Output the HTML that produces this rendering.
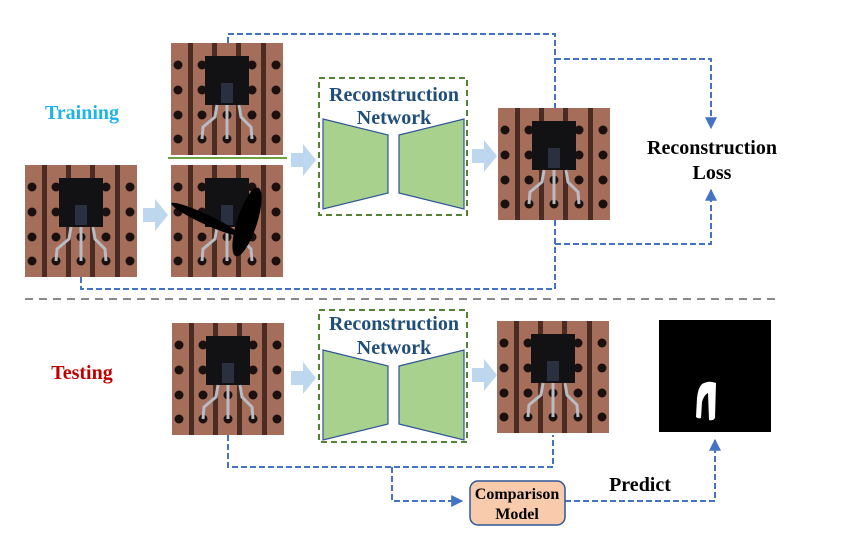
<!DOCTYPE html>
<html><head><meta charset="utf-8"><style>
html,body{margin:0;padding:0;background:#fff;}
svg{display:block;}
text{font-family:"Liberation Serif",serif;font-weight:bold;}
</style></head><body>
<svg width="844" height="535" viewBox="0 0 844 535" xmlns="http://www.w3.org/2000/svg">
<defs>
<symbol id="pcb" viewBox="0 0 112 112" width="112" height="112">
<rect width="112" height="112" fill="#a56e5a"/>
<rect x="17" width="5" height="112" fill="#4a2c22"/>
<rect x="41" width="5" height="112" fill="#4a2c22"/>
<rect x="65" width="5" height="112" fill="#4a2c22"/>
<rect x="90" width="5" height="112" fill="#4a2c22"/>
<g fill="#1a1010">
<circle cx="7" cy="22" r="4.5"/><circle cx="31" cy="22" r="4.5"/><circle cx="56" cy="22" r="4.5"/><circle cx="81" cy="22" r="4.5"/><circle cx="105" cy="22" r="4.5"/>
<circle cx="7" cy="47" r="4.5"/><circle cx="31" cy="47" r="4.5"/><circle cx="56" cy="47" r="4.5"/><circle cx="81" cy="47" r="4.5"/><circle cx="105" cy="47" r="4.5"/>
<circle cx="7" cy="72" r="4.5"/><circle cx="31" cy="72" r="4.5"/><circle cx="56" cy="72" r="4.5"/><circle cx="81" cy="72" r="4.5"/><circle cx="105" cy="72" r="4.5"/>
<circle cx="7" cy="96" r="4.5"/><circle cx="31" cy="96" r="4.5"/><circle cx="56" cy="96" r="4.5"/><circle cx="81" cy="96" r="4.5"/><circle cx="105" cy="96" r="4.5"/>
</g>
<rect x="34" y="13" width="44" height="49" fill="#121214"/>
<rect x="50" y="40" width="12" height="20" fill="#2a3040"/>
<g stroke="#b8bcc4" stroke-width="3" fill="none">
<path d="M46 62 L44 74 L32 84 L31 96"/>
<path d="M56 62 L56 96"/>
<path d="M68 62 L70 74 L80 84 L81 96"/>
</g>
</symbol>
<marker id="ah" viewBox="0 0 10 10" refX="9" refY="5" markerWidth="6" markerHeight="6" orient="auto"><path d="M0 0 L10 5 L0 10 z" fill="#4472c4"/></marker>
</defs>

<text x="82" y="119" font-size="20" fill="#1fb4e8" text-anchor="middle">Training</text>
<text x="82" y="379" font-size="20" fill="#c00000" text-anchor="middle">Testing</text>

<use href="#pcb" x="25" y="165"/>
<use href="#pcb" x="171" y="43"/>
<line x1="168" y1="158" x2="287" y2="158" stroke="#70a040" stroke-width="2"/>
<use href="#pcb" x="171" y="165"/>
<ellipse cx="205" cy="219" rx="37" ry="5" transform="rotate(25 205 219)" fill="#000"/>
<ellipse cx="247" cy="222" rx="10" ry="36" transform="rotate(18 247 222)" fill="#000"/>
<use href="#pcb" x="498" y="108"/>

<use href="#pcb" x="172" y="323"/>
<use href="#pcb" x="497" y="321"/>
<rect x="659" y="320" width="112" height="112" fill="#000"/>
<path d="M702 384 Q709 380 716 383 L715 418 Q713 421 709 420 L708 393 Q704 395 702 402 L701 418 Q698 419 696 417 L697 398 Q698 388 702 384 Z" fill="#fff"/>

<g fill="#bdd7ee">
<path d="M143 208 h12 v-9 l13 16 l-13 16 v-9 h-12 z"/>
<path d="M291 153 h12 v-9 l13 16 l-13 16 v-9 h-12 z"/>
<path d="M472 149 h12 v-9 l13 16 l-13 16 v-9 h-12 z"/>
<path d="M291 371 h12 v-9 l13 16 l-13 16 v-9 h-12 z"/>
<path d="M472 368 h12 v-9 l13 16 l-13 16 v-9 h-12 z"/>
</g>

<g>
<rect x="319" y="78" width="148" height="137" fill="none" stroke="#548235" stroke-width="2" stroke-dasharray="6,4"/>
<path d="M323 119 L388 135 L388 193 L323 209 Z" fill="#a9d18e" stroke="#2f5597" stroke-width="1.2"/>
<path d="M399 135 L464 119 L464 209 L399 193 Z" fill="#a9d18e" stroke="#2f5597" stroke-width="1.2"/>
<text x="394" y="101" font-size="20" fill="#1f4e79" text-anchor="middle">Reconstruction</text>
<text x="394" y="124" font-size="20" fill="#1f4e79" text-anchor="middle">Network</text>
</g>
<g>
<rect x="319" y="310" width="148" height="132" fill="none" stroke="#548235" stroke-width="2" stroke-dasharray="6,4"/>
<path d="M323 350 L388 366 L388 424 L323 440 Z" fill="#a9d18e" stroke="#2f5597" stroke-width="1.2"/>
<path d="M399 366 L464 350 L464 440 L399 424 Z" fill="#a9d18e" stroke="#2f5597" stroke-width="1.2"/>
<text x="394" y="330" font-size="20" fill="#1f4e79" text-anchor="middle">Reconstruction</text>
<text x="394" y="354" font-size="20" fill="#1f4e79" text-anchor="middle">Network</text>
</g>

<text x="712" y="154" font-size="20" fill="#000" text-anchor="middle">Reconstruction</text>
<text x="712" y="179" font-size="20" fill="#000" text-anchor="middle">Loss</text>

<g fill="none" stroke="#4472c4" stroke-width="2" stroke-dasharray="6,3">
<path d="M228 43 V34 H555 V108"/>
<path d="M555 59 H711 V128" marker-end="url(#ah)"/>
<path d="M555 220 V289 H81 V277"/>
<path d="M555 244 H711 V190" marker-end="url(#ah)"/>
<path d="M228 435 V467 H553 V435"/>
<path d="M392 467 V501 H462" marker-end="url(#ah)"/>
<path d="M565 501 H715 V440" marker-end="url(#ah)"/>
</g>

<line x1="25" y1="299" x2="775" y2="299" stroke="#888" stroke-width="2" stroke-dasharray="8,6"/>

<rect x="470" y="481" width="95" height="44" rx="8" fill="#f8cbad" stroke="#2f5597" stroke-width="1.5"/>
<text x="517" y="499" font-size="16" fill="#000" text-anchor="middle">Comparison</text>
<text x="517" y="519" font-size="16" fill="#000" text-anchor="middle">Model</text>
<text x="640" y="491" font-size="20" fill="#000" text-anchor="middle">Predict</text>
</svg>
</body></html>
